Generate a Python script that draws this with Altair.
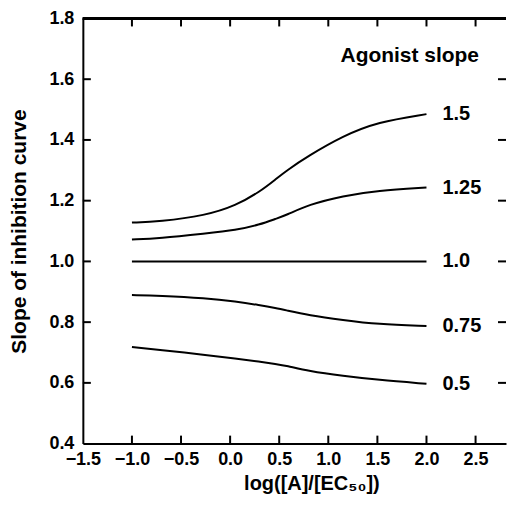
import altair as alt
import pandas as pd

# ---- data ----
x_vals = [-1.0, -0.72, -0.25, 0.06, 0.3, 0.47, 0.57, 0.8, 1.15, 1.5, 2.0]
slope_1_5 = [1.128, 1.131, 1.151, 1.184, 1.229, 1.272, 1.298, 1.348, 1.413, 1.459, 1.485]
slope_1_25 = [1.072, 1.076, 1.092, 1.103, 1.121, 1.141, 1.152, 1.187, 1.216, 1.233, 1.243]
slope_1_0 = [1.0, 1.0, 1.0, 1.0, 1.0, 1.0, 1.0, 1.0, 1.0, 1.0, 1.0]
slope_0_75 = [0.889, 0.887, 0.879, 0.868, 0.856, 0.846, 0.839, 0.823, 0.807, 0.793, 0.787]
slope_0_5 = [0.718, 0.709, 0.692, 0.680, 0.670, 0.662, 0.657, 0.639, 0.623, 0.610, 0.597]
series_labels = ["1.5", "1.25", "1.0", "0.75", "0.5"]
legend_title = "Agonist slope"
x_ticks = [-1.5, -1.0, -0.5, 0.0, 0.5, 1.0, 1.5, 2.0, 2.5]
y_ticks = [0.4, 0.6, 0.8, 1.0, 1.2, 1.4, 1.6, 1.8]
x_title = "log([A]/[EC₅₀])"
y_title = "Slope of inhibition curve"

all_series = [slope_1_5, slope_1_25, slope_1_0, slope_0_75, slope_0_5]
rows = []
for lab, ys_ in zip(series_labels, all_series):
    for xv, yv in zip(x_vals, ys_):
        rows.append({"series": lab, "x": xv, "y": yv})
df = pd.DataFrame(rows)
ends = df.groupby("series", sort=False).tail(1).reset_index(drop=True)

FONT = "Liberation Sans"
WEIGHT = "bold"
W, H = 424, 426
TICK = 8

xs = alt.Scale(domain=[-1.5, 2.81], nice=False, zero=False)
ys = alt.Scale(domain=[0.4, 1.8], nice=False, zero=False)

x_axis = alt.Axis(values=x_ticks, format=".1f", grid=False, ticks=False, tickSize=0,
                  domain=True, domainColor="black", domainWidth=2,
                  labelOverlap=False, labelFlush=False,
                  labelFont=FONT, labelFontSize=18, labelFontWeight=WEIGHT,
                  labelColor="black", labelPadding=7,
                  titleFont=FONT, titleFontSize=20, titleFontWeight=WEIGHT, titleColor="black",
                  titleX=229, titleY=40, titleBaseline="middle")
y_axis = alt.Axis(values=y_ticks, format=".1f", grid=False, ticks=False, tickSize=0,
                  domain=True, domainColor="black", domainWidth=2,
                  labelOverlap=False, labelFlush=False,
                  labelFont=FONT, labelFontSize=18, labelFontWeight=WEIGHT,
                  labelColor="black", labelPadding=9,
                  titleFont=FONT, titleFontSize=21, titleFontWeight=WEIGHT, titleColor="black",
                  titleX=-63, titleBaseline="middle")


def X(field):
    return alt.X(field, scale=xs, axis=x_axis, title=x_title)


def Y(field):
    return alt.Y(field, scale=ys, axis=y_axis, title=y_title)


lines = alt.Chart(df).mark_line(color="black", strokeWidth=2, interpolate="basis").encode(
    x=X("x:Q"), y=Y("y:Q"), detail="series:N",
)

labels = alt.Chart(ends).mark_text(align="left", baseline="middle", dx=16, font=FONT,
                                   fontSize=20, fontWeight=WEIGHT, color="black").encode(
    x=X("x:Q"), y=Y("y:Q"), text="series:N",
)

legend = alt.Chart(pd.DataFrame({"t": [legend_title], "lx": [1.83], "ly": [1.675]})).mark_text(
    align="center", baseline="middle", font=FONT, fontSize=21, fontWeight=WEIGHT,
    color="black").encode(
    x=X("lx:Q"), y=Y("ly:Q"), text="t:N")

xt = pd.DataFrame({"x": x_ticks[1:]})
yt = pd.DataFrame({"y": y_ticks[1:-1]})
rule = dict(color="black", strokeWidth=2)
bottom_ticks = alt.Chart(xt).mark_rule(**rule).encode(
    x=X("x:Q"), y=alt.value(H), y2=alt.value(H - TICK))
top_ticks = alt.Chart(xt).mark_rule(**rule).encode(
    x=X("x:Q"), y=alt.value(0), y2=alt.value(TICK))
left_ticks = alt.Chart(yt).mark_rule(**rule).encode(
    y=Y("y:Q"), x=alt.value(0), x2=alt.value(TICK))
right_ticks = alt.Chart(yt).mark_rule(**rule).encode(
    y=Y("y:Q"), x=alt.value(W - TICK), x2=alt.value(W))
top_line = alt.Chart(xt).mark_rule(**rule).encode(
    x=alt.value(0), x2=alt.value(W), y=alt.value(0))

chart = alt.layer(lines, labels, legend, bottom_ticks, top_ticks, left_ticks,
                  right_ticks, top_line).properties(
    width=W, height=H, padding={"left": 1, "top": 1, "right": 0, "bottom": 0},
    background="white",
).configure_view(stroke=None)

chart.save("out.html", embed_options={"renderer": "svg", "actions": False})
